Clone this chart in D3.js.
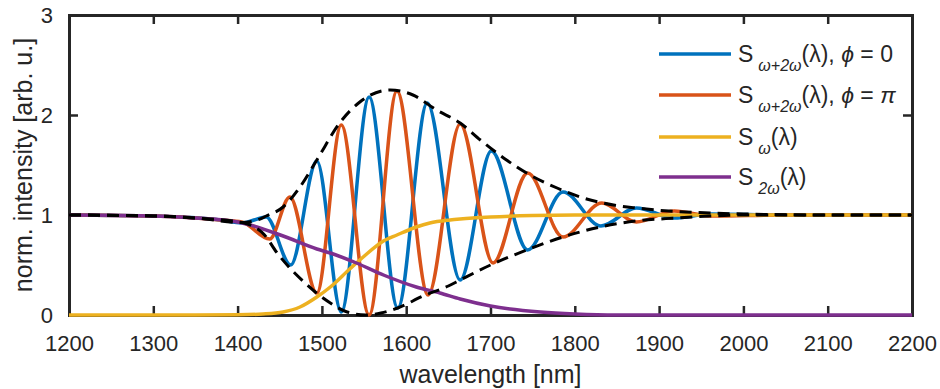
<!DOCTYPE html>
<html>
<head>
<meta charset="utf-8">
<script src="https://cdn.jsdelivr.net/npm/d3@7/dist/d3.min.js"></script>
<style>
  body { margin: 0; background: #fff; }
  text { font-family: "Liberation Sans", Arial, sans-serif; fill: #262626; }
</style>
</head>
<body>
<div id="graph01"></div>
<script>
// tick labels
const xTicks = [1200, 1300, 1400, 1500, 1600, 1700, 1800, 1900, 2000, 2100, 2200];
const yTicks = [0, 1, 2, 3];

// S_{w+2w}, phi = 0  ([wavelength, intensity])
const sumPhi0 = [
  [1200, 1.0], [1300, 0.99], [1380, 0.95], [1405, 0.92], [1434, 0.98], [1463, 0.5],
  [1494, 1.54], [1523, 0.03], [1556, 2.18], [1590, 0.07], [1625, 2.12], [1664, 0.35],
  [1701, 1.64], [1744, 0.65], [1786, 1.23], [1831, 0.89], [1873, 1.07], [1918, 0.97],
  [1962, 1.01], [2050, 1.0], [2200, 1.0]
];
// S_{w+2w}, phi = pi
const sumPhiPi = [
  [1200, 1.0], [1300, 0.99], [1380, 0.95], [1405, 0.93], [1438, 0.76], [1462, 1.18],
  [1494, 0.22], [1523, 1.9], [1556, 0.0], [1589, 2.24], [1626, 0.2], [1664, 1.91],
  [1703, 0.52], [1744, 1.42], [1786, 0.78], [1832, 1.12], [1873, 0.93], [1918, 1.04],
  [1962, 0.99], [2050, 1.0], [2200, 1.0]
];
// S_w
const sOmega = [
  [1200, 0.0], [1350, 0.0], [1400, 0.002], [1430, 0.01], [1454, 0.03], [1474, 0.08],
  [1494, 0.18], [1510, 0.28], [1533, 0.46], [1549, 0.58], [1573, 0.74], [1589, 0.8],
  [1612, 0.88], [1628, 0.92], [1652, 0.95], [1664, 0.96], [1700, 0.98], [1750, 0.995],
  [1800, 1.0], [2200, 1.0]
];
// S_2w
const s2Omega = [
  [1200, 1.0], [1300, 0.99], [1350, 0.97], [1400, 0.93], [1415, 0.9], [1454, 0.79],
  [1494, 0.66], [1510, 0.62], [1541, 0.52], [1573, 0.4], [1612, 0.28], [1640, 0.22],
  [1664, 0.16], [1700, 0.09], [1759, 0.03], [1800, 0.01], [1850, 0.0], [2200, 0.0]
];
// envelopes (dashed)
const envUpper = [
  [1200, 1.0], [1300, 0.99], [1350, 0.97], [1405, 0.925], [1420, 0.94], [1434, 0.99],
  [1454, 1.08], [1474, 1.28], [1494, 1.55], [1521, 1.92], [1545, 2.13], [1581, 2.25],
  [1608, 2.2], [1636, 2.05], [1664, 1.92], [1688, 1.75], [1719, 1.55], [1747, 1.4],
  [1779, 1.27], [1810, 1.17], [1846, 1.1], [1873, 1.07], [1920, 1.035], [1960, 1.02],
  [2000, 1.01], [2100, 1.0], [2200, 1.0]
];
const envLower = [
  [1200, 1.0], [1300, 0.99], [1350, 0.97], [1405, 0.925], [1420, 0.88], [1432, 0.8],
  [1446, 0.63], [1462, 0.47], [1480, 0.32], [1495, 0.21], [1510, 0.12], [1530, 0.03],
  [1552, 0.0], [1570, 0.02], [1590, 0.07], [1620, 0.19], [1650, 0.29], [1664, 0.35],
  [1700, 0.5], [1743, 0.65], [1786, 0.78], [1830, 0.88], [1873, 0.94], [1920, 0.97],
  [1960, 0.99], [2000, 1.0], [2200, 1.0]
];

const legendLabels = [
  { sub: "ω+2ω", tail: "(λ), ", phi: "ϕ", rest: " = ", val: "0" },
  { sub: "ω+2ω", tail: "(λ), ", phi: "ϕ", rest: " = ", val: "π" },
  { sub: "ω", tail: "(λ)" },
  { sub: "2ω", tail: "(λ)" }
];

(function() {
  const W = 940, H = 389;
  const m = { left: 69, right: 28, top: 15, bottom: 74 };
  const colors = ["#0072BD", "#D95319", "#EDB120", "#7E2F8E"];
  const axisColor = "#262626";

  const svg = d3.select("#graph01").append("svg")
    .attr("width", W).attr("height", H);

  const x = d3.scaleLinear().domain([1200, 2200]).range([m.left, W - m.right]);
  const y = d3.scaleLinear().domain([0, 3]).range([H - m.bottom, m.top]);

  // axes (ticks pointing inward, box)
  const gx = svg.append("g").attr("transform", `translate(0,${y(0)})`)
    .call(d3.axisBottom(x).tickValues(xTicks).tickSize(-9).tickPadding(20).tickFormat(d3.format("d")));
  const gxTop = svg.append("g").attr("transform", `translate(0,${y(3)})`)
    .call(d3.axisTop(x).tickValues(xTicks).tickSize(-9).tickFormat(""));
  const gy = svg.append("g").attr("transform", `translate(${x(1200)},0)`)
    .call(d3.axisLeft(y).tickValues(yTicks).tickSize(-9).tickPadding(16).tickFormat(d3.format("d")));
  const gyRight = svg.append("g").attr("transform", `translate(${x(2200)},0)`)
    .call(d3.axisRight(y).tickValues(yTicks).tickSize(-9).tickFormat(""));

  [gx, gxTop, gy, gyRight].forEach(g => {
    g.selectAll("path").attr("stroke", axisColor).attr("stroke-width", 3);
    g.selectAll("line").attr("stroke", axisColor).attr("stroke-width", 2.5);
    g.selectAll("text").attr("font-size", 22).attr("fill", axisColor)
      .attr("font-family", "'Liberation Sans', Arial, sans-serif");
  });
  gy.selectAll("text").attr("dy", "0.36em");

  // axis labels
  svg.append("text")
    .attr("x", (x(1200) + x(2200)) / 2).attr("y", 383)
    .attr("text-anchor", "middle").attr("font-size", 25)
    .text("wavelength [nm]");
  svg.append("text")
    .attr("transform", `translate(32,${(y(0) + y(3)) / 2}) rotate(-90)`)
    .attr("text-anchor", "middle").attr("font-size", 25)
    .text("norm. intensity [arb. u.]");

  // curves
  const line = d3.line()
    .x(d => x(d[0]))
    .y(d => y(d[1]))
    .curve(d3.curveMonotoneX);

  const series = [sumPhi0, sumPhiPi, sOmega, s2Omega];
  series.forEach((s, i) => {
    svg.append("path")
      .datum(s)
      .attr("fill", "none")
      .attr("stroke", colors[i])
      .attr("stroke-width", 3.5)
      .attr("stroke-linejoin", "round")
      .attr("d", line);
  });

  [envUpper, envLower].forEach(s => {
    svg.append("path")
      .datum(s)
      .attr("fill", "none")
      .attr("stroke", "#000")
      .attr("stroke-width", 3)
      .attr("stroke-dasharray", "12,7")
      .attr("d", line);
  });

  // legend
  const legend = svg.append("g");
  const rowY = [54, 95, 137, 177];
  legendLabels.forEach((lab, i) => {
    legend.append("line")
      .attr("x1", 659).attr("x2", 731)
      .attr("y1", rowY[i]).attr("y2", rowY[i])
      .attr("stroke", colors[i]).attr("stroke-width", 3.5);
    const t = legend.append("text")
      .attr("x", 738).attr("y", rowY[i] + 8)
      .attr("font-size", 23).attr("fill", "#000");
    t.append("tspan").text("S");
    t.append("tspan").attr("dx", 5).attr("dy", 9).attr("font-size", 16)
      .attr("font-style", "italic").text(lab.sub);
    t.append("tspan").attr("dy", -9).text(lab.tail);
    if (lab.phi) {
      t.append("tspan").attr("font-style", "italic").text(lab.phi);
      t.append("tspan").text(lab.rest);
      t.append("tspan").attr("font-style", lab.val === "π" ? "italic" : "normal").text(lab.val);
    }
  });
})();
</script>
</body>
</html>
